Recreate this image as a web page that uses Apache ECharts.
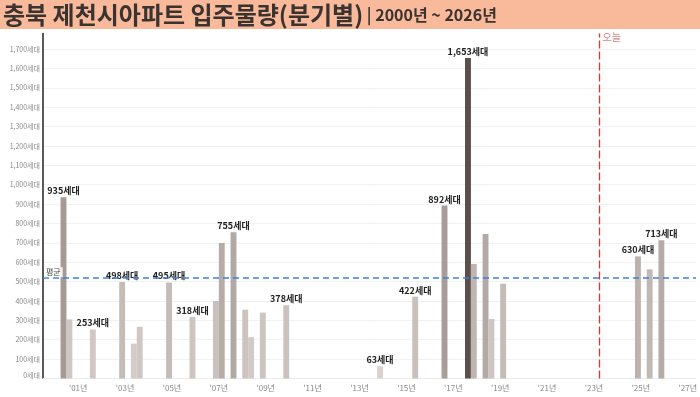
<!DOCTYPE html>
<html>
<head>
<meta charset="utf-8">
<script src="https://cdn.jsdelivr.net/npm/echarts@6/dist/echarts.min.js"></script>
<style>
  html, body { margin: 0; padding: 0; background: #fff; }
  #main { width: 700px; height: 397px; }
</style>
</head>
<body>
<div id="main"></div>
<script>
// 분기별 입주물량 (값이 있는 분기만)
const years    = [2000, 2001, 2002, 2003, 2003, 2004, 2005, 2006, 2007, 2007, 2008, 2008, 2008, 2009, 2010, 2014, 2015, 2017, 2018, 2018, 2018, 2019, 2019, 2025, 2025, 2026]
const quarters = [4,    1,    1,    2,    4,    1,    2,    2,    2,    3,    1,    3,    4,    2,    2,    2,    4,    1,    1,    2,    4,    1,    3,    2,    4,    2]
const units    = [935,  305,  253,  498,  180,  267,  495,  318,  400,  699,  755,  355,  213,  340,  378,  63,   422,  892,  1653, 591,  745,  307,  489,  630,  563,  713]
const labeled  = [1,    0,    1,    1,    0,    0,    1,    1,    0,    0,    1,    0,    0,    0,    1,    1,    1,    1,    1,    0,    0,    0,    0,    1,    0,    1]

// x축 눈금 (홀수 연도)
const tickYears = [2001, 2003, 2005, 2007, 2009, 2011, 2013, 2015, 2017, 2019, 2021, 2023, 2025, 2027]
const TODAY = 2023.74

const FONT = '"Noto Sans CJK KR", "Noto Sans", sans-serif'

const barData = years.map((y, i) => ({
    value: [y + (quarters[i] - 0.5) / 4, units[i]],
    label: { show: !!labeled[i] }
}))

const chart = echarts.init(document.getElementById('main'))

const option = {
    animation: false,
    textStyle: { fontFamily: FONT },
    graphic: [{
        type: 'rect',
        shape: { x: 0, y: 0, width: 700, height: 29 },
        style: { fill: '#f9b99b' },
        z: -1
    }],
    title: {
        text: '{a|충북 제천시아파트 입주물량(분기별)}{b| | 2000년 ~ 2026년}',
        left: 3,
        top: 2,
        padding: 0,
        textStyle: {
            rich: {
                a: { fontFamily: FONT, fontSize: 24, fontWeight: 'bold', color: '#3a3330', lineHeight: 26 },
                b: { fontFamily: FONT, fontSize: 16, fontWeight: 'bold', color: '#3a3330', lineHeight: 26 }
            }
        }
    },
    grid: { left: 43, right: 0, top: 33.5, bottom: 18.5 },
    visualMap: {
        show: false,
        type: 'continuous',
        seriesIndex: 0,
        dimension: 1,
        min: 0,
        max: 1653,
        inRange: { color: ['#ddd5d2', '#c2b9b5', '#978d89', '#5a4f4b'] }
    },
    xAxis: {
        type: 'value',
        min: 2000,
        max: 2027.85,
        splitLine: { show: false },
        axisTick: { show: false },
        axisLine: { show: true, lineStyle: { color: '#ececec' } },
        axisLabel: {
            customValues: tickYears.map(y => y + 0.5),
            formatter: v => "'" + String(Math.floor(v)).slice(2) + '년',
            fontSize: 8,
            color: '#888',
            margin: 5
        }
    },
    yAxis: {
        type: 'value',
        min: 0,
        max: 1780,
        interval: 100,
        axisLine: { show: true, lineStyle: { color: '#222', width: 1.5 } },
        axisTick: { show: false },
        axisLabel: {
            formatter: v => (v % 100 ? '' : v.toLocaleString('en-US') + '세대'),
            fontSize: 7,
            color: '#888',
            margin: 3,
            showMaxLabel: false,
            verticalAlignMinLabel: 'bottom'
        },
        splitLine: { showMaxLine: false, lineStyle: { color: '#f1f1f1' } }
    },
    series: [
        {
            type: 'bar',
            barWidth: 5.9,
            data: barData,
            label: {
                position: 'top',
                distance: 2,
                fontSize: 9,
                fontWeight: 'bold',
                color: '#222',
                formatter: p => p.value[1].toLocaleString('en-US') + '세대'
            },
            markLine: {
                silent: true,
                symbol: 'none',
                data: [
                    {
                        type: 'average', valueIndex: 1, name: '평균',
                        lineStyle: { color: '#3d7fe6', width: 1.5, type: [6, 4] },
                        label: {
                            position: 'insideStartTop',
                            formatter: '평균',
                            fontSize: 8,
                            color: '#444',
                            distance: 1,
                            backgroundColor: 'rgba(255,255,255,0.85)',
                            padding: [1, 2]
                        }
                    },
                    {
                        xAxis: TODAY, name: '오늘',
                        lineStyle: { color: '#e8322e', width: 1.3, type: [8, 3], opacity: 1 },
                        label: { show: false }
                    }
                ]
            }
        },
        {
            // 오늘 표시
            type: 'scatter',
            symbolSize: 0,
            silent: true,
            data: [[TODAY, 1762]],
            label: {
                show: true,
                position: 'right',
                distance: 3,
                formatter: '오늘',
                fontSize: 10,
                color: '#c9605c'
            }
        }
    ]
}

chart.setOption(option)
</script>
</body>
</html>
